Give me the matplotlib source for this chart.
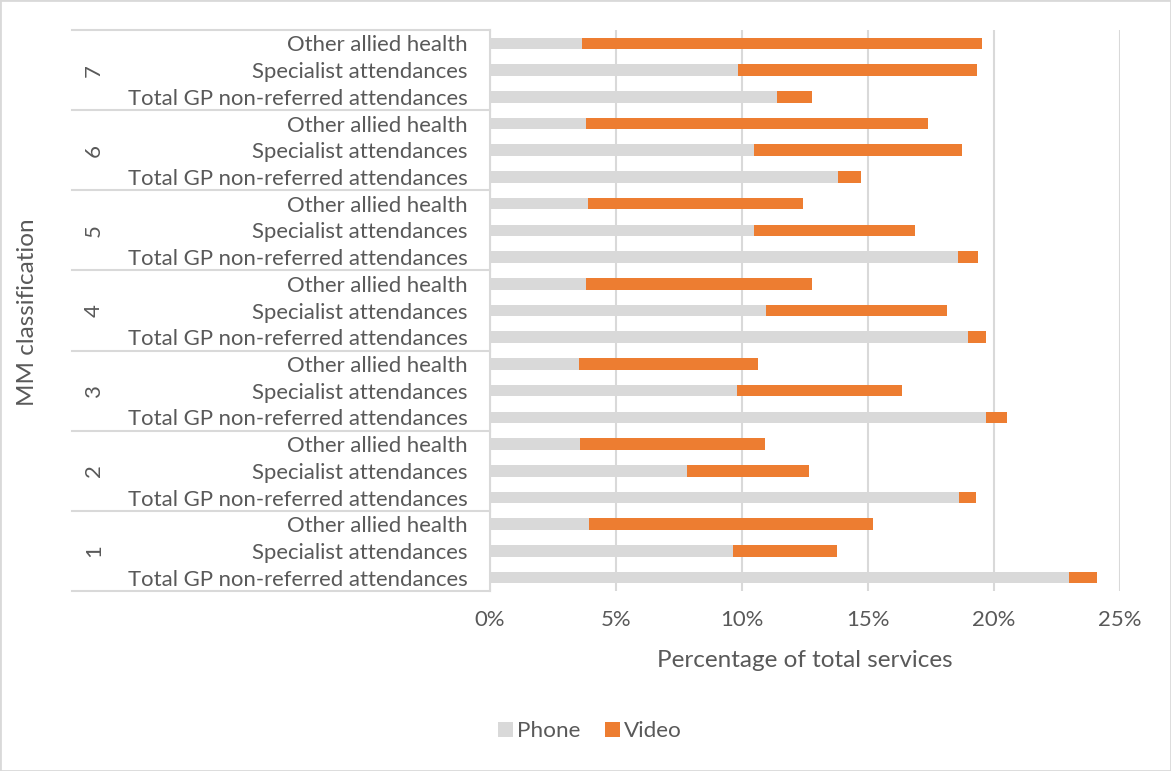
import matplotlib
matplotlib.use("Agg")
import matplotlib.pyplot as plt
from matplotlib.patches import Rectangle

plt.rcParams['font.family'] = ['Lato', 'DejaVu Sans']

# Dane (w %), grupy MM od 1 do 7
groups = ["1", "2", "3", "4", "5", "6", "7"]
services = ["Total GP non-referred attendances", "Specialist attendances", "Other allied health"]

phone_gp = [22.99, 18.62, 19.68, 18.98, 18.59, 13.79, 11.38]
video_gp = [1.09, 0.67, 0.84, 0.71, 0.76, 0.92, 1.38]

phone_spec = [9.64, 7.81, 9.80, 10.94, 10.48, 10.47, 9.85]
video_spec = [4.14, 4.84, 6.53, 7.21, 6.39, 8.25, 9.47]

phone_oah = [3.93, 3.57, 3.53, 3.81, 3.89, 3.81, 3.67]
video_oah = [11.26, 7.33, 7.09, 8.98, 8.55, 13.58, 15.86]

grey = "#d9d9d9"
orange = "#ed7d31"
txt = "#595959"

W, H = 1171, 771
fig = plt.figure(figsize=(W / 100, H / 100), dpi=100)
ax = fig.add_axes([490 / W, 1 - 591 / H, 630 / W, 561 / H])

# Składamy kolejne słupki: w każdej grupie GP, Specialist, Other allied
phone, video, labels = [], [], []
for i in range(len(groups)):
    phone += [phone_gp[i] / 100, phone_spec[i] / 100, phone_oah[i] / 100]
    video += [video_gp[i] / 100, video_spec[i] / 100, video_oah[i] / 100]
    labels += services
pos = list(range(len(phone)))

ax.barh(pos, phone, height=0.43, color=grey, label="Phone", zorder=3)
ax.barh(pos, video, left=phone, height=0.43, color=orange, label="Video", zorder=3)

ax.set_xlim(0, 0.25)
ax.set_ylim(-0.5, len(pos) - 0.5)
ax.set_xticks([0, 0.05, 0.10, 0.15, 0.20, 0.25])
ax.set_xticklabels(["0%", "5%", "10%", "15%", "20%", "25%"])
ax.xaxis.grid(True, color=grey, linewidth=1.5, zorder=0)
ax.set_axisbelow(True)

ax.set_yticks(pos)
ax.set_yticklabels(labels)
ax.tick_params(axis="y", length=0, pad=16, labelsize=15.9, labelcolor=txt)
ax.tick_params(axis="x", length=0, pad=14, labelsize=15.9, labelcolor=txt)

for s in ["top", "right", "bottom"]:
    ax.spines[s].set_visible(False)
ax.spines["left"].set_color(grey)
ax.spines["left"].set_linewidth(1.5)

# Linie rozdzielające grupy i etykiety grup
tr = ax.get_yaxis_transform()
x0 = (72 - 490) / 630
for k in range(len(groups) + 1):
    yb = k * 3 - 0.5
    ax.plot([x0, 0], [yb, yb], color=grey, linewidth=1.5, transform=tr, clip_on=False)
for i, g in enumerate(groups):
    ax.text((94 - 490) / 630, i * 3 + 1, g, transform=tr, rotation=90,
            ha="center", va="center", fontsize=15.9, color=txt)

ax.set_xlabel("Percentage of total services", fontsize=17.5, color=txt, labelpad=14)
fig.text(28 / W, 1 - 312 / H, "MM classification", rotation=90, ha="center",
         va="center", fontsize=17.5, color=txt)

fig.legend(loc="center", bbox_to_anchor=(590 / W, 1 - 731 / H), ncol=2, frameon=False,
           fontsize=16.2, labelcolor=txt, handlelength=0.65, handleheight=0.65,
           columnspacing=1.1, handletextpad=0.2)

fig.patches.append(Rectangle((0, 0), 1, 1, transform=fig.transFigure, fill=False,
                             edgecolor=grey, linewidth=2))

fig.savefig("out.png", dpi=100)
